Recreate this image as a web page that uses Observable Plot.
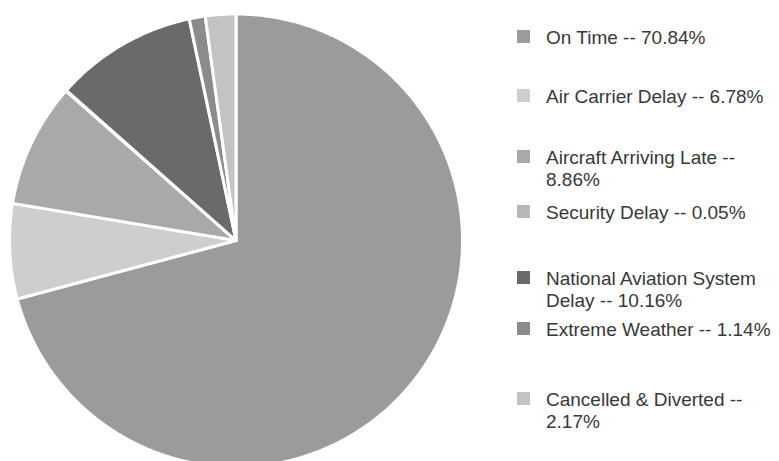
<!DOCTYPE html>
<html>
<head>
<meta charset="utf-8">
<script src="https://cdn.jsdelivr.net/npm/d3@7"></script>
<script src="https://cdn.jsdelivr.net/npm/@observablehq/plot@0.6"></script>
<style>
  html, body { margin: 0; padding: 0; background: #fff; }
  #chart { position: relative; width: 779px; height: 461px; overflow: hidden; }
  #chart svg { position: absolute; left: 0; top: 0; }
  #legend { position: absolute; left: 517px; top: 0; font-family: "Liberation Sans", Arial, sans-serif; font-size: 19px; color: #383838; }
  .row { position: absolute; left: 0; height: 44px; width: 262px; }
  .swatch { position: absolute; left: 0; top: 3px; width: 13px; height: 13px; }
  .label { position: absolute; left: 29px; top: 0; width: 234px; line-height: 22px; }
</style>
</head>
<body>
<div id="chart"></div>
<script>
// Arrival performance breakdown (percent of flights)
const categories = [
  "On Time",
  "Air Carrier Delay",
  "Aircraft Arriving Late",
  "Security Delay",
  "National Aviation System Delay",
  "Extreme Weather",
  "Cancelled & Diverted"
];
const shares = [70.84, 6.78, 8.86, 0.05, 10.16, 1.14, 2.17];
const greys = ["#9b9b9b", "#cecece", "#a9a9a9", "#b8b8b8", "#6a6a6a", "#8b8b8b", "#c3c3c3"];

// Slice outlines on a unit circle, starting at 12 o'clock and running clockwise
const arcs = d3.pie().sort(null).value(d => d)(shares);
const outline = [];
arcs.forEach((s, i) => {
  const slice = categories[i];
  const steps = Math.max(2, Math.ceil((s.endAngle - s.startAngle) / 0.01));
  outline.push({slice, x: 0, y: 0});
  for (let k = 0; k <= steps; ++k) {
    const a = s.startAngle + (s.endAngle - s.startAngle) * k / steps;
    outline.push({slice, x: Math.sin(a), y: Math.cos(a)});
  }
  outline.push({slice, x: 0, y: 0});
});

const cx = 235.5, cy = 240, r = 226.5;
const chart = Plot.plot({
  width: 779,
  height: 461,
  margin: 0,
  style: {background: "#fff"},
  x: {domain: [-1, 1], range: [cx - r, cx + r], axis: null},
  y: {domain: [-1, 1], range: [cy + r, cy - r], axis: null},
  color: {domain: categories, range: greys},
  marks: [
    Plot.line(outline, {
      x: "x", y: "y", z: "slice",
      fill: "slice",
      stroke: "#fff",
      strokeWidth: 3,
      strokeLinejoin: "miter",
      curve: "linear"
    })
  ]
});

const root = document.getElementById("chart");
root.appendChild(chart);

// Legend beside the pie; top offset of each entry's first line
const legendTops = [27, 86, 147, 202, 268, 319, 389];
const legend = document.createElement("div");
legend.id = "legend";
categories.forEach((c, i) => {
  const row = document.createElement("div");
  row.className = "row";
  row.style.top = legendTops[i] + "px";
  const sw = document.createElement("div");
  sw.className = "swatch";
  sw.style.background = chart.scale("color").apply(c);
  const lab = document.createElement("div");
  lab.className = "label";
  lab.textContent = `${c} -- ${shares[i].toFixed(2)}%`;
  row.appendChild(sw);
  row.appendChild(lab);
  legend.appendChild(row);
});
root.appendChild(legend);
</script>
</body>
</html>
